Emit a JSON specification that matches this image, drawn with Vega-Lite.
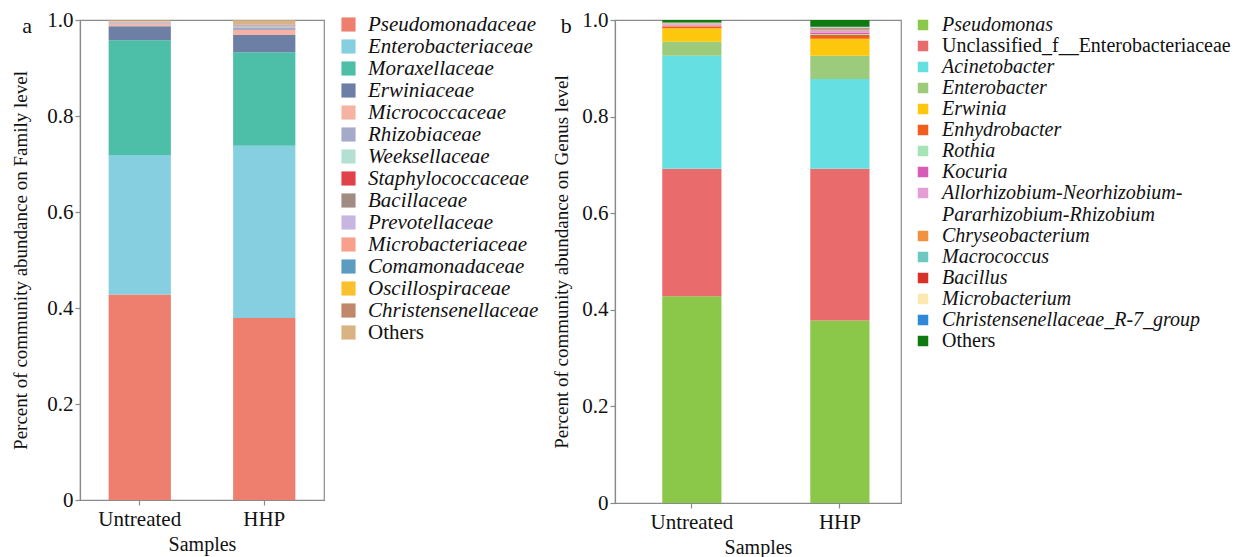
{
  "$schema": "https://vega.github.io/schema/vega-lite/v6.json",
  "background": "white",
  "padding": {"left": 11, "top": 8, "right": 0, "bottom": 0},
  "spacing": 12,
  "resolve": {"scale": {"color": "independent"}, "legend": {"color": "independent"}},
  "config": {
    "font": "Liberation Serif",
    "view": {"stroke": "#8a8a8a", "strokeWidth": 1.2},
    "axis": {
      "labelFont": "Liberation Serif", "labelFontSize": 21, "labelColor": "#111",
      "titleFont": "Liberation Serif", "titleFontSize": 19, "titleFontWeight": "normal", "titleColor": "#111",
      "domainColor": "#8a8a8a", "tickColor": "#8a8a8a", "domainWidth": 1.2, "tickWidth": 1.2, "tickSize": 5,
      "grid": false
    },
    "axisX": {"titleFontSize": 20, "titlePadding": 5, "labelPadding": 3},
    "legend": {
      "labelFont": "Liberation Serif", "labelFontSize": 21, "labelColor": "#111",
      "symbolType": "square", "symbolStrokeWidth": 0, "labelLimit": 400, "title": null
    },
    "title": {"font": "Liberation Serif", "fontSize": 22, "fontWeight": "normal", "color": "#111"}
  },
  "datasets": {
    "family": [
      {"sample": "Untreated", "taxon": "Pseudomonadaceae", "value": 0.428},
      {"sample": "Untreated", "taxon": "Enterobacteriaceae", "value": 0.291},
      {"sample": "Untreated", "taxon": "Moraxellaceae", "value": 0.239},
      {"sample": "Untreated", "taxon": "Erwiniaceae", "value": 0.029},
      {"sample": "Untreated", "taxon": "Micrococcaceae", "value": 0.004},
      {"sample": "Untreated", "taxon": "Rhizobiaceae", "value": 0.002},
      {"sample": "Untreated", "taxon": "Weeksellaceae", "value": 0.001},
      {"sample": "Untreated", "taxon": "Staphylococcaceae", "value": 0.0005},
      {"sample": "Untreated", "taxon": "Bacillaceae", "value": 0.0005},
      {"sample": "Untreated", "taxon": "Prevotellaceae", "value": 0.0003},
      {"sample": "Untreated", "taxon": "Microbacteriaceae", "value": 0.001},
      {"sample": "Untreated", "taxon": "Comamonadaceae", "value": 0.0003},
      {"sample": "Untreated", "taxon": "Oscillospiraceae", "value": 0.0002},
      {"sample": "Untreated", "taxon": "Christensenellaceae", "value": 0.0002},
      {"sample": "Untreated", "taxon": "Others", "value": 0.002},
      {"sample": "HHP", "taxon": "Pseudomonadaceae", "value": 0.379},
      {"sample": "HHP", "taxon": "Enterobacteriaceae", "value": 0.359},
      {"sample": "HHP", "taxon": "Moraxellaceae", "value": 0.195},
      {"sample": "HHP", "taxon": "Erwiniaceae", "value": 0.036},
      {"sample": "HHP", "taxon": "Micrococcaceae", "value": 0.01},
      {"sample": "HHP", "taxon": "Rhizobiaceae", "value": 0.006},
      {"sample": "HHP", "taxon": "Weeksellaceae", "value": 0.002},
      {"sample": "HHP", "taxon": "Staphylococcaceae", "value": 0.001},
      {"sample": "HHP", "taxon": "Bacillaceae", "value": 0.001},
      {"sample": "HHP", "taxon": "Prevotellaceae", "value": 0.0005},
      {"sample": "HHP", "taxon": "Microbacteriaceae", "value": 0.0005},
      {"sample": "HHP", "taxon": "Comamonadaceae", "value": 0.0005},
      {"sample": "HHP", "taxon": "Oscillospiraceae", "value": 0.0003},
      {"sample": "HHP", "taxon": "Christensenellaceae", "value": 0.0003},
      {"sample": "HHP", "taxon": "Others", "value": 0.0084}
    ],
    "genus": [
      {"sample": "Untreated", "taxon": "Pseudomonas", "value": 0.428},
      {"sample": "Untreated", "taxon": "Unclassified_f__Enterobacteriaceae", "value": 0.264},
      {"sample": "Untreated", "taxon": "Acinetobacter", "value": 0.234},
      {"sample": "Untreated", "taxon": "Enterobacter", "value": 0.029},
      {"sample": "Untreated", "taxon": "Erwinia", "value": 0.028},
      {"sample": "Untreated", "taxon": "Enhydrobacter", "value": 0.004},
      {"sample": "Untreated", "taxon": "Rothia", "value": 0.001},
      {"sample": "Untreated", "taxon": "Kocuria", "value": 0.001},
      {"sample": "Untreated", "taxon": "Allorhizobium-Neorhizobium-Pararhizobium-Rhizobium", "value": 0.002},
      {"sample": "Untreated", "taxon": "Chryseobacterium", "value": 0.001},
      {"sample": "Untreated", "taxon": "Macrococcus", "value": 0.001},
      {"sample": "Untreated", "taxon": "Bacillus", "value": 0.0005},
      {"sample": "Untreated", "taxon": "Microbacterium", "value": 0.001},
      {"sample": "Untreated", "taxon": "Christensenellaceae_R-7_group", "value": 0.0005},
      {"sample": "Untreated", "taxon": "Others", "value": 0.005},
      {"sample": "HHP", "taxon": "Pseudomonas", "value": 0.378},
      {"sample": "HHP", "taxon": "Unclassified_f__Enterobacteriaceae", "value": 0.314},
      {"sample": "HHP", "taxon": "Acinetobacter", "value": 0.186},
      {"sample": "HHP", "taxon": "Enterobacter", "value": 0.048},
      {"sample": "HHP", "taxon": "Erwinia", "value": 0.035},
      {"sample": "HHP", "taxon": "Enhydrobacter", "value": 0.008},
      {"sample": "HHP", "taxon": "Rothia", "value": 0.002},
      {"sample": "HHP", "taxon": "Kocuria", "value": 0.003},
      {"sample": "HHP", "taxon": "Allorhizobium-Neorhizobium-Pararhizobium-Rhizobium", "value": 0.004},
      {"sample": "HHP", "taxon": "Chryseobacterium", "value": 0.001},
      {"sample": "HHP", "taxon": "Macrococcus", "value": 0.002},
      {"sample": "HHP", "taxon": "Bacillus", "value": 0.002},
      {"sample": "HHP", "taxon": "Microbacterium", "value": 0.002},
      {"sample": "HHP", "taxon": "Christensenellaceae_R-7_group", "value": 0.001},
      {"sample": "HHP", "taxon": "Others", "value": 0.014}
    ]
  },
  "hconcat": [
    {
      "data": {"name": "family"},
      "transform": [
        {"calculate": "indexof(['Pseudomonadaceae', 'Enterobacteriaceae', 'Moraxellaceae', 'Erwiniaceae', 'Micrococcaceae', 'Rhizobiaceae', 'Weeksellaceae', 'Staphylococcaceae', 'Bacillaceae', 'Prevotellaceae', 'Microbacteriaceae', 'Comamonadaceae', 'Oscillospiraceae', 'Christensenellaceae', 'Others'], datum.taxon)", "as": "ord"}
      ],
      "width": 244,
      "height": 480,
      "title": {"text": "a", "anchor": "end", "frame": "group", "orient": "left", "angle": 0, "baseline": "top", "offset": -30, "dy": -4},
      "mark": {"type": "bar"},
      "encoding": {
        "x": {
          "field": "sample", "type": "nominal", "sort": ["Untreated", "HHP"],
          "scale": {"paddingInner": 0.5, "paddingOuter": 0.23},
          "axis": {"title": "Samples", "labelAngle": 0}
        },
        "y": {
          "field": "value", "type": "quantitative", "stack": "zero",
          "scale": {"domain": [0, 1], "nice": false},
          "axis": {"title": "Percent of community abundance on Family level", "values": [0, 0.2, 0.4, 0.6, 0.8, 1.0],
                   "labelExpr": "datum.value == 0 ? '0' : format(datum.value, '.1f')", "titlePadding": 16}
        },
        "order": {"field": "ord", "type": "quantitative", "sort": "ascending"},
        "color": {
          "field": "taxon", "type": "nominal",
          "sort": ["Pseudomonadaceae", "Enterobacteriaceae", "Moraxellaceae", "Erwiniaceae", "Micrococcaceae", "Rhizobiaceae", "Weeksellaceae", "Staphylococcaceae", "Bacillaceae", "Prevotellaceae", "Microbacteriaceae", "Comamonadaceae", "Oscillospiraceae", "Christensenellaceae", "Others"],
          "scale": {
            "domain": ["Pseudomonadaceae", "Enterobacteriaceae", "Moraxellaceae", "Erwiniaceae", "Micrococcaceae", "Rhizobiaceae", "Weeksellaceae", "Staphylococcaceae", "Bacillaceae", "Prevotellaceae", "Microbacteriaceae", "Comamonadaceae", "Oscillospiraceae", "Christensenellaceae", "Others"],
            "range": ["#ee7f6e", "#86cfe0", "#4dbfa8", "#6e7fa6", "#f6b2a2", "#a4aac8", "#b4e0d4", "#e0414a", "#a08c80", "#c8b6e2", "#f9a08c", "#5b9cc0", "#fbc02d", "#c0876a", "#d9b383"]
          },
          "legend": {
            "orient": "none", "legendX": 258, "legendY": -6, "symbolSize": 200, "rowPadding": 0, "labelOffset": 9, "padding": 0,
            "encode": {"labels": {"update": {"fontStyle": {"signal": "datum.value == 'Others' ? 'normal' : 'italic'"}}}}
          }
        }
      }
    },
    {
      "data": {"name": "genus"},
      "transform": [
        {"calculate": "indexof(['Pseudomonas', 'Unclassified_f__Enterobacteriaceae', 'Acinetobacter', 'Enterobacter', 'Erwinia', 'Enhydrobacter', 'Rothia', 'Kocuria', 'Allorhizobium-Neorhizobium-Pararhizobium-Rhizobium', 'Chryseobacterium', 'Macrococcus', 'Bacillus', 'Microbacterium', 'Christensenellaceae_R-7_group', 'Others'], datum.taxon)", "as": "ord"}
      ],
      "width": 286,
      "height": 483,
      "title": {"text": "b", "anchor": "end", "frame": "group", "orient": "left", "angle": 0, "baseline": "top", "offset": -30, "dy": -4},
      "mark": {"type": "bar"},
      "encoding": {
        "x": {
          "field": "sample", "type": "nominal", "sort": ["Untreated", "HHP"],
          "scale": {"paddingInner": 0.6, "paddingOuter": 0.266, "align": 0.6},
          "axis": {"title": "Samples", "labelAngle": 0}
        },
        "y": {
          "field": "value", "type": "quantitative", "stack": "zero",
          "scale": {"domain": [0, 1], "nice": false},
          "axis": {"title": "Percent of community abundance on Genus level", "values": [0, 0.2, 0.4, 0.6, 0.8, 1.0],
                   "labelExpr": "datum.value == 0 ? '0' : format(datum.value, '.1f')", "titlePadding": 10}
        },
        "order": {"field": "ord", "type": "quantitative", "sort": "ascending"},
        "color": {
          "field": "taxon", "type": "nominal",
          "sort": ["Pseudomonas", "Unclassified_f__Enterobacteriaceae", "Acinetobacter", "Enterobacter", "Erwinia", "Enhydrobacter", "Rothia", "Kocuria", "Allorhizobium-Neorhizobium-Pararhizobium-Rhizobium", "Chryseobacterium", "Macrococcus", "Bacillus", "Microbacterium", "Christensenellaceae_R-7_group", "Others"],
          "scale": {
            "domain": ["Pseudomonas", "Unclassified_f__Enterobacteriaceae", "Acinetobacter", "Enterobacter", "Erwinia", "Enhydrobacter", "Rothia", "Kocuria", "Allorhizobium-Neorhizobium-Pararhizobium-Rhizobium", "Chryseobacterium", "Macrococcus", "Bacillus", "Microbacterium", "Christensenellaceae_R-7_group", "Others"],
            "range": ["#8bc84a", "#e96b6b", "#66dfe3", "#9ccb7c", "#fdc70d", "#f25c1c", "#a6e3b6", "#d85cb6", "#e59ed5", "#f2913f", "#6cc8c0", "#d9302a", "#fde9b0", "#2f88d8", "#0f7a0f"]
          },
          "legend": {
            "orient": "none", "legendX": 298, "legendY": -5, "symbolSize": 110, "rowPadding": 1, "labelOffset": 9, "padding": 0, "labelFontSize": 20,
            "labelExpr": "datum.label == 'Allorhizobium-Neorhizobium-Pararhizobium-Rhizobium' ? ['Allorhizobium-Neorhizobium-', 'Pararhizobium-Rhizobium'] : datum.label",
            "encode": {"labels": {"update": {"fontStyle": {"signal": "datum.value == 'Others' || datum.value == 'Unclassified_f__Enterobacteriaceae' ? 'normal' : 'italic'"}}}}
          }
        }
      }
    }
  ]
}
